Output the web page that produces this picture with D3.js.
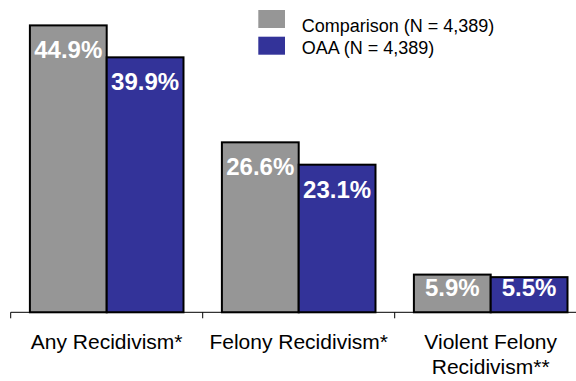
<!DOCTYPE html>
<html>
<head>
<meta charset="utf-8">
<script src="https://cdn.jsdelivr.net/npm/d3@7/dist/d3.min.js"></script>
<style>
  html, body { margin: 0; padding: 0; background: #fff; }
  svg { display: block; font-family: "Liberation Sans", Arial, sans-serif; }
</style>
</head>
<body>
<svg id="chart" width="576" height="381"></svg>
<script>
// Recidivism rates by group
const categories = [["Any Recidivism*"], ["Felony Recidivism*"], ["Violent Felony", "Recidivism**"]];
const seriesNames = ["Comparison (N = 4,389)", "OAA (N = 4,389)"];
const comparisonValues = [44.9, 26.6, 5.9];
const oaaValues = [39.9, 23.1, 5.5];
const seriesColors = ["#969696", "#333399"];

const series = [comparisonValues, oaaValues];
const catKeys = categories.map(c => c.join(" "));

const svg = d3.select("#chart");
const baseY = 312.3;

const x0 = d3.scaleBand()
  .domain(catKeys)
  .range([10.7, 586.7])
  .paddingInner(0.2)
  .paddingOuter(0.1);

const x1 = d3.scaleBand()
  .domain(d3.range(series.length))
  .range([0, x0.bandwidth()]);

const y = d3.scaleLinear()
  .domain([0, 50])
  .range([baseY, -7.2]);

// Bars
const groups = svg.append("g")
  .selectAll("g")
  .data(catKeys)
  .join("g")
  .attr("transform", d => `translate(${x0(d)},0)`);

groups.selectAll("rect")
  .data((d, i) => series.map((s, j) => ({ j, v: s[i] })))
  .join("rect")
  .attr("x", d => x1(d.j))
  .attr("y", d => y(d.v))
  .attr("width", x1.bandwidth())
  .attr("height", d => baseY - y(d.v))
  .attr("fill", d => seriesColors[d.j])
  .attr("stroke", "#000")
  .attr("stroke-width", 2);

// Value labels inside the bar tops
groups.selectAll("text.val")
  .data((d, i) => series.map((s, j) => ({ j, v: s[i] })))
  .join("text")
  .attr("class", "val")
  .attr("x", d => x1(d.j) + x1.bandwidth() / 2)
  .attr("y", d => Math.min(y(d.v) + 33, baseY - 16.5))
  .attr("text-anchor", "middle")
  .attr("fill", "#fff")
  .attr("font-weight", "bold")
  .attr("font-size", 24)
  .text(d => d.v.toFixed(1) + "%");

// Category axis
const step = x0.step();
const axisG = svg.append("g");
axisG.append("line")
  .attr("x1", 10.7).attr("x2", 586.7)
  .attr("y1", baseY).attr("y2", baseY)
  .attr("stroke", "#000").attr("stroke-width", 1);

const tickXs = catKeys.map(k => x0(k) - step * x0.paddingInner() / 2);
tickXs.push(x0(catKeys[catKeys.length - 1]) + x0.bandwidth() + step * x0.paddingInner() / 2);
axisG.selectAll("line.tick")
  .data(tickXs)
  .join("line")
  .attr("class", "tick")
  .attr("x1", d => d).attr("x2", d => d)
  .attr("y1", baseY).attr("y2", baseY + 6)
  .attr("stroke", "#000").attr("stroke-width", 1);

const catLabels = axisG.selectAll("text.cat")
  .data(categories)
  .join("text")
  .attr("class", "cat")
  .attr("text-anchor", "middle")
  .attr("font-size", 21)
  .attr("fill", "#000");

catLabels.selectAll("tspan")
  .data((d, i) => d.map(line => ({ line, key: catKeys[i] })))
  .join("tspan")
  .attr("x", d => x0(d.key) + x0.bandwidth() / 2)
  .attr("y", (d, i) => 349 + i * 24.5)
  .text(d => d.line);

// Legend
const legend = svg.append("g");
legend.selectAll("rect")
  .data(seriesNames)
  .join("rect")
  .attr("x", 258.3)
  .attr("y", (d, i) => 10 + i * 26.7)
  .attr("width", 26.7)
  .attr("height", 18)
  .attr("fill", (d, i) => seriesColors[i]);

legend.selectAll("text")
  .data(seriesNames)
  .join("text")
  .attr("x", 301.7)
  .attr("y", (d, i) => 32.3 + i * 22)
  .attr("font-size", 18)
  .attr("fill", "#000")
  .text(d => d);
</script>
</body>
</html>
